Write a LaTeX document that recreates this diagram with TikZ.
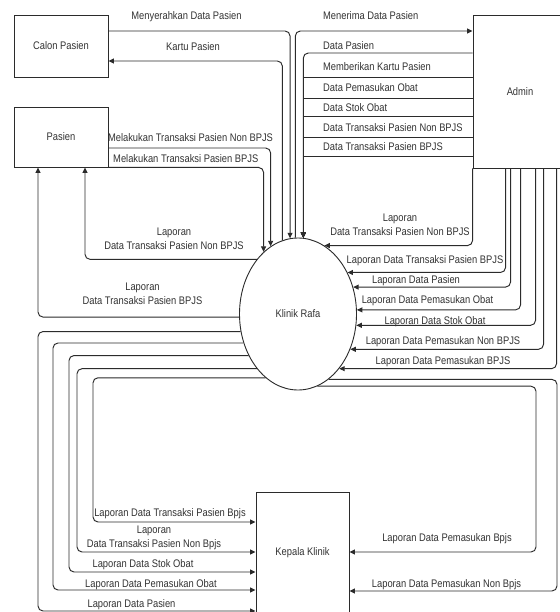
\documentclass[tikz,border=0pt]{standalone}
\usepackage{fontspec}
\setmainfont{Liberation Sans}[FakeStretch=0.85]
\usetikzlibrary{arrows.meta,shapes.geometric}
\definecolor{ln}{HTML}{2B2B2B}
\definecolor{txt}{HTML}{333333}
\newcommand{\lblfont}{\fontsize{11}{14}\selectfont}
\begin{document}
\begin{tikzpicture}[x=1pt,y=-1pt,
  box/.style={draw=ln, line width=0.9pt, inner sep=0pt, font=\lblfont, text=txt},
  circ/.style={ellipse, draw=ln, line width=0.9pt, inner sep=0pt, minimum width=117pt, minimum height=152pt, font=\lblfont, text=txt},
  arr/.style={draw=ln, line width=0.95pt, rounded corners=5pt, -{Triangle[length=5.5pt,width=5pt]}},
  lbl/.style={font=\lblfont, text=txt, inner sep=0pt, anchor=base},
  lblw/.style={font=\lblfont, text=txt, inner sep=0pt, anchor=base west},
  lbl2/.style={font=\lblfont, text=txt, inner sep=0pt, anchor=north, align=center}]
\useasboundingbox (0,0) rectangle (559,612);
\fill[white] (0,0) rectangle (559,612);

% nodes
\node[box, minimum width=94pt, minimum height=62pt] (calon) at (61,46) {Calon Pasien};
\node[box, minimum width=94pt, minimum height=60pt] (pasien) at (61,137) {Pasien};
\node[box, minimum width=94pt, minimum height=153pt] (admin) at (520,91.5) {Admin};
\node[box, minimum width=93pt, minimum height=122pt] (kepala) at (302.5,553) {Kepala Klinik};
\node[circ] (klinik) at (298,314) {Klinik Rafa};

% Calon Pasien <-> Klinik
\draw[arr] ([yshift=15pt]calon.east) -| (klinik.96.06);
\draw[arr] (klinik.102.3) |- ([yshift=-15pt]calon.east);
% Klinik -> Admin
\draw[arr] (klinik.92.26) |- ([yshift=60.5pt]admin.west);
% Admin -> Klinik
\draw[arr] ([yshift=38.5pt]admin.west) -| (klinik.86.2);
\draw[arr, sharp corners] ([yshift=14.5pt]admin.west) -| (klinik.86.2);
\draw[arr, sharp corners] ([yshift=-6.5pt]admin.west) -| (klinik.86.2);
\draw[arr, sharp corners] ([yshift=-24.5pt]admin.west) -| (klinik.86.2);
\draw[arr, sharp corners] ([yshift=-45.5pt]admin.west) -| (klinik.86.2);
\draw[arr, sharp corners] ([yshift=-64.5pt]admin.west) -| (klinik.86.2);
% Pasien -> Klinik
\draw[arr] ([yshift=-11pt]pasien.east) -| (klinik.112.77);
\draw[arr] (pasien.south east) -| (klinik.119.89);
% Klinik -> Pasien
\draw[arr] (klinik.127.3) -| ([xshift=24pt]pasien.south);
\draw[arr] (klinik.183.9) -| ([xshift=-23pt]pasien.south);
% Admin -> Klinik (reports)
\draw[arr] (admin.south west) |- (klinik.69.0);
\draw[arr] ([xshift=33pt]admin.south west) |- (klinik.40.7);
\draw[arr] ([xshift=38pt]admin.south west) |- (klinik.26.27);
\draw[arr] ([xshift=48pt]admin.south west) |- (klinik.4.9);
\draw[arr] ([xshift=63pt]admin.south west) |- (klinik.-11.74);
\draw[arr] ([xshift=71pt]admin.south west) |- (klinik.-34.94);
\draw[arr] ([xshift=84pt]admin.south west) |- (klinik.-53.72);
% Klinik -> Kepala (right)
\draw[arr] (klinik.-65) -| (557,591) -- ([yshift=-38pt]kepala.east);
\draw[arr] (klinik.-75) -| (536,552) -- ([yshift=1pt]kepala.east);
% Klinik -> Kepala (left)
\draw[arr] (klinik.197.57) -| (38,611) -- ([yshift=-58pt]kepala.west);
\draw[arr] (klinik.208.2) -| (53,590) -- ([yshift=-37pt]kepala.west);
\draw[arr] (klinik.220.74) -| (69,572) -- ([yshift=-19pt]kepala.west);
\draw[arr] (klinik.233.72) -| (77,552) -- ([yshift=1pt]kepala.west);
\draw[arr] (klinik.243.76) -| (93,522) -- ([yshift=31pt]kepala.west);

% labels
\node[lbl] (l1) at (186.5,20) {Menyerahkan Data Pasien};
\node[lbl] (l2) at (193,50.5) {Kartu Pasien};
\node[lblw] (l3) at (323,19.5) {Menerima Data Pasien};
\node[lblw] (l4) at (323,50) {Data Pasien};
\node[lblw] (l5) at (323,71) {Memberikan Kartu Pasien};
\node[lblw] (l6) at (323,91.5) {Data Pemasukan Obat};
\node[lblw] (l7) at (323,111.5) {Data Stok Obat};
\node[lblw] (l8) at (323,131.5) {Data Transaksi Pasien Non BPJS};
\node[lblw] (l9) at (323,151) {Data Transaksi Pasien BPJS};
\node[lbl] (l10) at (190.5,141.5) {Melakukan Transaksi Pasien Non BPJS};
\node[lbl] (l11) at (185.8,162.5) {Melakukan Transaksi Pasien BPJS};
\node[lbl2] (l12) at (174,228.1) {Laporan\\Data Transaksi Pasien Non BPJS};
\node[lbl2] (l13) at (142.5,283.1) {Laporan\\Data Transaksi Pasien BPJS};
\node[lbl2] (l14) at (400,213.6) {Laporan\\Data Transaksi Pasien Non BPJS};
\node[lbl] (l15) at (425,263) {Laporan Data Transaksi Pasien BPJS};
\node[lbl] (l16) at (416,283) {Laporan Data Pasien};
\node[lbl] (l17) at (427.5,303) {Laporan Data Pemasukan Obat};
\node[lbl] (l18) at (435,324) {Laporan Data Stok Obat};
\node[lbl] (l19) at (443,344) {Laporan Data Pemasukan Non BPJS};
\node[lbl] (l20) at (443,364) {Laporan Data Pemasukan BPJS};
\node[lbl] (l21) at (170,516.5) {Laporan Data Transaksi Pasien Bpjs};
\node[lbl2] (l22) at (154,526.1) {Laporan\\Data Transaksi Pasien Non Bpjs};
\node[lbl] (l23) at (143,567) {Laporan Data Stok Obat};
\node[lbl] (l24) at (151,587) {Laporan Data Pemasukan Obat};
\node[lbl] (l25) at (131.5,607.5) {Laporan Data Pasien};
\node[lbl] (l26) at (447,541.5) {Laporan Data Pemasukan Bpjs};
\node[lbl] (l27) at (446.5,587) {Laporan Data Pemasukan Non Bpjs};
\end{tikzpicture}
\end{document}
